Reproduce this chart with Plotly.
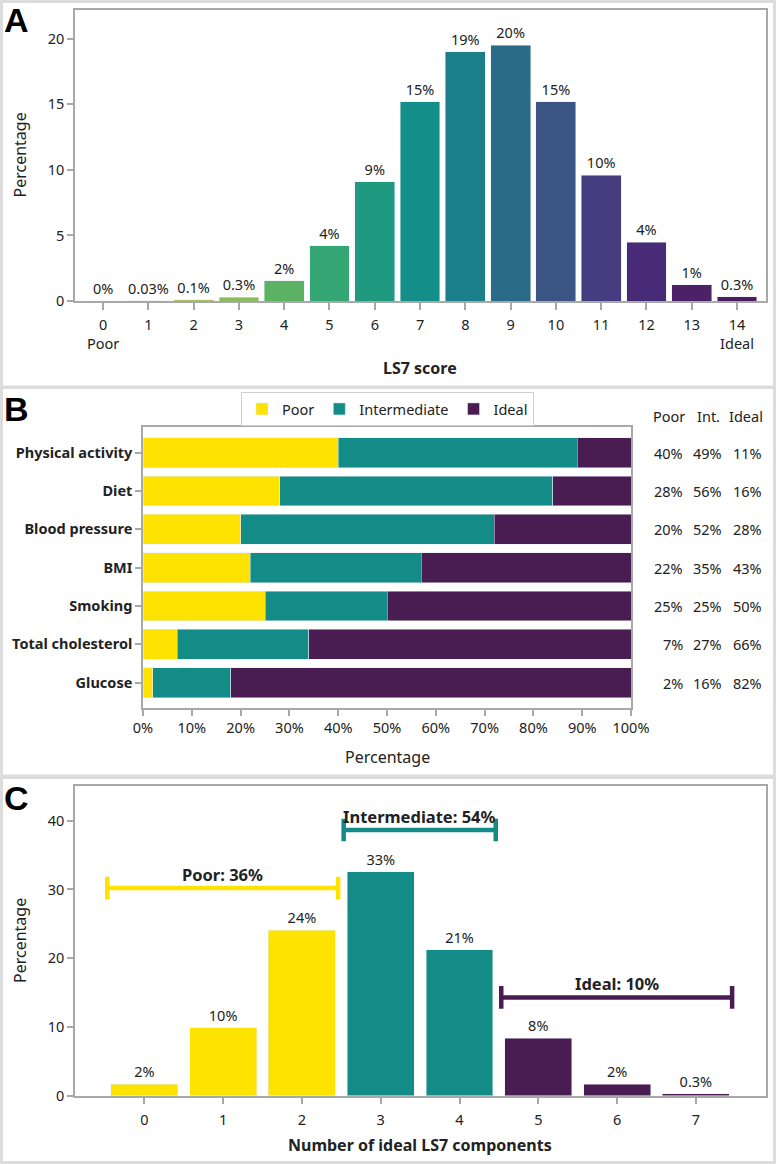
import plotly.graph_objects as go

# ---- data ----
# A: LS7 score distribution
ls7_score = list(range(15))
ls7_pct = [0.0, 0.03, 0.1, 0.3, 1.55, 4.2, 9.1, 15.2, 19.0, 19.5, 15.2, 9.6, 4.5, 1.25, 0.33]
ls7_lbl = ["0%", "0.03%", "0.1%", "0.3%", "2%", "4%", "9%", "15%", "19%", "20%",
           "15%", "10%", "4%", "1%", "0.3%"]
ls7_ticks = ["0<br>Poor"] + [str(i) for i in range(1, 14)] + ["14<br>Ideal"]
ls7_colors = ["#d0cc76", "#c8c86e", "#abc063", "#88bb5a", "#5bb262", "#34a774", "#1f9a80",
              "#138e88", "#1a7f89", "#2a6b87", "#3a5484", "#443d80", "#472b76", "#4b2168",
              "#4c1c5f"]

# B: component categories
components = ["Physical activity", "Diet", "Blood pressure", "BMI", "Smoking",
              "Total cholesterol", "Glucose"]
poor_pct = [40, 28, 20, 22, 25, 7, 2]
int_pct = [49, 56, 52, 35, 25, 27, 16]
ideal_pct = [11, 16, 28, 43, 50, 66, 82]
pct_ticks = list(range(0, 101, 10))

# C: number of ideal components
n_ideal = list(range(8))
n_ideal_pct = [1.66, 9.9, 24.1, 32.6, 21.2, 8.35, 1.7, 0.3]
n_ideal_lbl = ["2%", "10%", "24%", "33%", "21%", "8%", "2%", "0.3%"]
n_ideal_grp = ["Poor", "Poor", "Poor", "Intermediate", "Intermediate", "Ideal", "Ideal", "Ideal"]
groups = ["Poor", "Intermediate", "Ideal"]
group_pct = ["36%", "54%", "10%"]

YEL, TEAL, PURP = "#fee200", "#138c88", "#4a1d52"
grp_col = {"Poor": YEL, "Intermediate": TEAL, "Ideal": PURP}

FONT = "Noto Sans"
TXT = "#222222"
AX = "#a8a8a8"
FS = 14.5
W, H = 776, 1164


def px(y):  # pixel row -> paper y
    return 1 - y / H


fig = go.Figure()

fig.add_trace(go.Bar(
    x=ls7_score, y=ls7_pct, width=0.88, marker_color=ls7_colors,
    text=ls7_lbl, textposition="outside", constraintext="none", cliponaxis=False,
    textfont=dict(size=FS, color=TXT), showlegend=False, xaxis="x", yaxis="y"))

for name, vals, col in [("Poor", poor_pct, YEL), ("Intermediate", int_pct, TEAL),
                        ("Ideal", ideal_pct, PURP)]:
    fig.add_trace(go.Bar(
        y=components, x=vals, orientation="h", width=0.78, name=name,
        marker_color=col, xaxis="x2", yaxis="y2"))

fig.add_trace(go.Bar(
    x=n_ideal, y=n_ideal_pct, width=0.85, marker_color=[grp_col[g] for g in n_ideal_grp],
    text=n_ideal_lbl, textposition="outside", constraintext="none", cliponaxis=False,
    textfont=dict(size=FS, color=TXT), showlegend=False, xaxis="x3", yaxis="y3"))

axcommon = dict(showline=True, linecolor=AX, linewidth=1.5, mirror=True, ticks="outside",
                ticklen=6, tickcolor=AX, tickwidth=1.5, showgrid=False, zeroline=False,
                automargin=False, tickfont=dict(size=FS, color=TXT, family=FONT))
xcommon = dict(axcommon, ticklen=7, ticklabelstandoff=3)

# white panels over the grey page
shapes = []
for y0, y1 in [(3, 385.5), (389, 774.5), (779, 1161)]:
    shapes.append(dict(type="rect", xref="paper", yref="paper", x0=3 / W, x1=773 / W,
                       y0=px(y1), y1=px(y0), fillcolor="white", line_width=0, layer="below"))

# group brackets in panel C
bracket_y = {"Poor": 30.2, "Intermediate": 38.65, "Ideal": 14.3}
annotations = []
for g, pct in zip(groups, group_pct):
    idx = [i for i, gg in enumerate(n_ideal_grp) if gg == g]
    x0, x1, yb = idx[0] - 0.47, idx[-1] + 0.46, bracket_y[g]
    c = grp_col[g]
    shapes.append(dict(type="line", xref="x3", yref="y3", x0=x0, x1=x1, y0=yb, y1=yb,
                       line=dict(color=c, width=4.5)))
    for xe in (x0, x1):
        shapes.append(dict(type="line", xref="x3", yref="y3", x0=xe, x1=xe,
                           y0=yb - 1.65, y1=yb + 1.65, line=dict(color=c, width=4.5)))
    annotations.append(dict(xref="x3", yref="y3", x=(x0 + x1) / 2, y=yb + 2.0,
                            text=f"<b>{g}: {pct}</b>", showarrow=False,
                            xanchor="center", yanchor="middle",
                            font=dict(size=16.5, color=TXT)))

# panel letters
for letter, yy in [("A", 20), ("B", 409), ("C", 798)]:
    annotations.append(dict(xref="paper", yref="paper", x=16.5 / W, y=px(yy),
                            text=f"<b>{letter}</b>", showarrow=False,
                            xanchor="center", yanchor="middle",
                            font=dict(size=34, color="black", family="Liberation Sans")))

# axis titles
for txt, xx, yy, ang in [("Percentage", 20, 155.5, -90), ("<b>LS7 score</b>", 420.5, 368, 0),
                         ("Percentage", 387, 757, 0),
                         ("Percentage", 20, 941, -90),
                         ("<b>Number of ideal LS7 components</b>", 420.5, 1145, 0)]:
    annotations.append(dict(xref="paper", yref="paper", x=xx / W, y=px(yy), text=txt,
                            textangle=ang, showarrow=False, xanchor="center",
                            yanchor="middle", font=dict(size=16, color=TXT)))

# right-hand percentage table in panel B
for head, xc in [("Poor", 669), ("Int.", 708), ("Ideal", 746)]:
    annotations.append(dict(xref="paper", yref="paper", x=xc / W, y=px(416), text=head,
                            showarrow=False, xanchor="center", yanchor="middle",
                            font=dict(size=FS, color=TXT)))
for vals, xr in [(poor_pct, 685), (int_pct, 724), (ideal_pct, 764)]:
    for comp, v in zip(components, vals):
        annotations.append(dict(xref="paper", yref="y2", x=xr / W, y=comp, text=f"{v}%",
                                xanchor="right", yanchor="middle", showarrow=False,
                                font=dict(size=FS, color=TXT)))

fig.update_layout(
    width=W, height=H, margin=dict(l=0, r=0, t=0, b=0),
    paper_bgcolor="#dcdcdc", plot_bgcolor="white",
    font=dict(family=FONT, size=FS, color=TXT),
    barmode="stack", shapes=shapes, annotations=annotations,
    xaxis=dict(xcommon, domain=[75 / W, 766 / W], range=[-0.62, 14.64], tickvals=ls7_score,
               ticktext=ls7_ticks, anchor="y"),
    yaxis=dict(axcommon, domain=[px(301), px(10)], range=[0, 22.2], tickvals=[0, 5, 10, 15, 20],
               anchor="x"),
    xaxis2=dict(axcommon, domain=[143 / W, 631 / W], range=[0, 100], tickvals=pct_ticks,
                ticktext=[f"{v}%" for v in pct_ticks], anchor="y2"),
    yaxis2=dict(axcommon, domain=[px(708), px(427)], type="category", range=[6.66, -0.67],
                tickfont=dict(size=FS, color=TXT, family=FONT, weight="bold"), anchor="x2"),
    xaxis3=dict(xcommon, domain=[75 / W, 766 / W], range=[-0.88, 7.89], tickvals=n_ideal,
                anchor="y3"),
    yaxis3=dict(axcommon, domain=[px(1095.7), px(786)], range=[0, 45.05],
                tickvals=[0, 10, 20, 30, 40], anchor="x3"),
    legend=dict(orientation="h", x=387.5 / W, xanchor="center", y=px(392), yanchor="top",
                bordercolor="#cfcfcf", borderwidth=1, bgcolor="white", itemwidth=30,
                font=dict(size=FS, color=TXT), traceorder="normal", tracegroupgap=0,
                itemclick=False),
)

# the page body has a default 8px margin; drop it so the figure sits at 0,0
fig.write_html("out.html", config={"displayModeBar": False},
               post_script="document.body.style.margin='0';")
